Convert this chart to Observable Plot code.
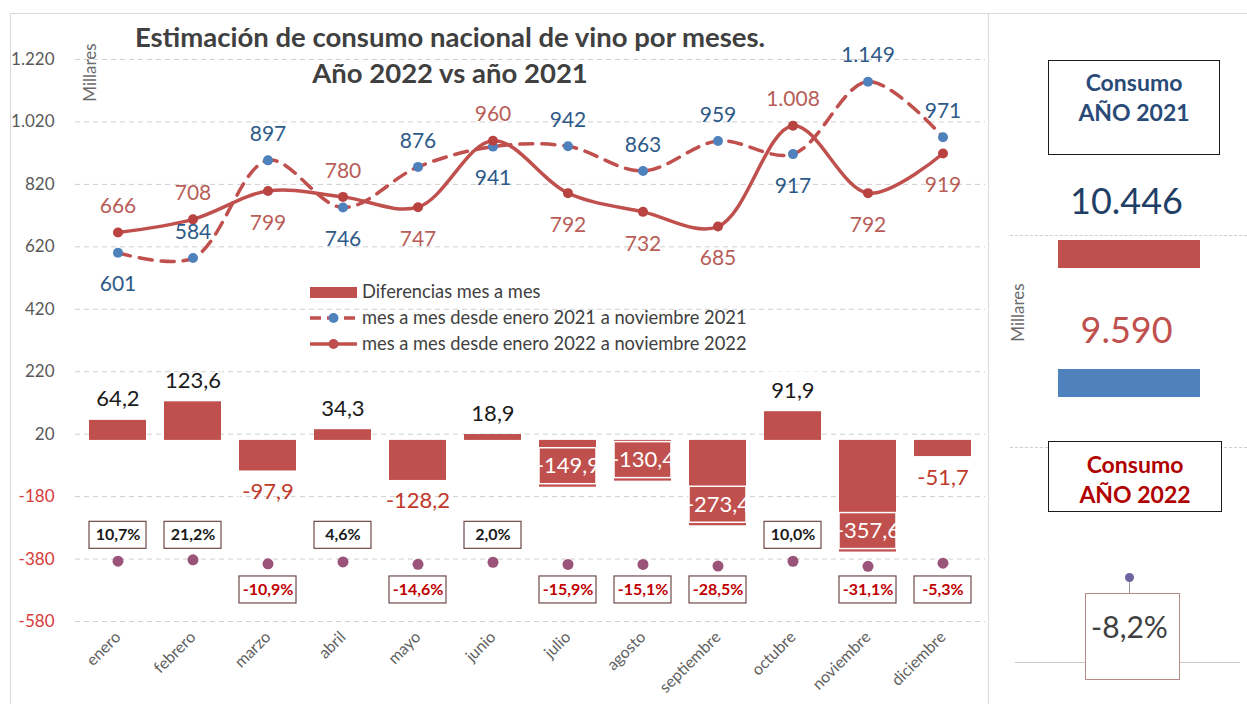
<!DOCTYPE html>
<html><head><meta charset="utf-8">
<script src="https://cdn.jsdelivr.net/npm/d3@7"></script>
<script src="https://cdn.jsdelivr.net/npm/@observablehq/plot@0.6"></script>
<style>
body{margin:0;background:#fff;font-family:Lato,"Open Sans",sans-serif;}
#wrap{position:relative;width:1247px;height:704px;overflow:hidden;background:#fff;}
.abs{position:absolute;}
.hbox{position:absolute;background:#fff;border:1.5px solid #1a1a1a;box-sizing:border-box;text-align:center;font-weight:700;font-size:23px;line-height:30px;padding-top:6px;}
.millares{position:absolute;transform:rotate(-90deg);transform-origin:center;color:#6b6b6b;font-size:17px;white-space:nowrap;}
</style></head><body>
<div id="wrap">
  <!-- frame lines -->
  <div class="abs" style="left:10px;top:13px;width:1237px;height:1px;background:#d9d9d9"></div>
  <div class="abs" style="left:10px;top:13px;width:1px;height:691px;background:#d9d9d9"></div>
  <div class="abs" style="left:988px;top:13px;width:1px;height:691px;background:#d9d9d9"></div>
  <!-- right panel guides -->
  <div class="abs" style="left:1010px;top:235px;width:237px;height:0;border-top:1px dashed #cfcfcf"></div>
  <div class="abs" style="left:1010px;top:447px;width:237px;height:0;border-top:1px dashed #cfcfcf"></div>
  <div class="abs" style="left:1015px;top:662px;width:225px;height:1px;background:#c8c8c8"></div>
  <div class="hbox" style="left:1048px;top:60px;width:172px;height:95px;color:#2a4a78">Consumo<br>AÑO 2021</div>
  <div class="hbox" style="left:1048px;top:441px;width:174px;height:71px;color:#b00000;padding-top:7px">Consumo<br>AÑO 2022</div>
  <div class="abs" style="left:1129px;top:580px;width:1px;height:13px;background:#999"></div>
  <div class="abs" style="left:1085px;top:593px;width:95px;height:87px;border:1px solid #b58a88;box-sizing:border-box;background:#fff"></div>

  <div id="left" class="abs" style="left:0;top:0"></div>
  <div id="right" class="abs" style="left:995px;top:0"></div>

  <div class="millares" style="left:60px;top:62px;">Millares</div>
  <div class="millares" style="left:988px;top:302px;">Millares</div>

  <div class="abs" style="left:0;top:19px;width:900px;text-align:center;font-weight:700;font-size:27.5px;color:#404040;line-height:36px;">Estimación de consumo nacional de vino por meses.<br>Año 2022 vs año 2021</div>

  <svg class="abs" style="left:305px;top:280px" width="480" height="78">
    <rect x="5" y="7" width="47" height="11" fill="#c0504d"></rect>
    <line x1="5" y1="38" x2="52" y2="38" stroke="#c0504d" stroke-width="3.5" stroke-dasharray="11,6"></line>
    <circle cx="28.5" cy="38" r="5" fill="#4f81bd"></circle>
    <line x1="5" y1="64" x2="52" y2="64" stroke="#c0504d" stroke-width="3.5"></line>
    <circle cx="28.5" cy="64" r="5" fill="#c0504d"></circle>
    <g font-family="Lato, sans-serif" font-size="18.3" fill="#404040">
      <text x="57" y="18">Diferencias mes a mes</text>
      <text x="57" y="44">mes a mes desde enero 2021 a noviembre 2021</text>
      <text x="57" y="70">mes a mes desde enero 2022 a noviembre 2022</text>
    </g>
  </svg>
</div>
<script>
// ---- data ----
const months = ["enero","febrero","marzo","abril","mayo","junio","julio","agosto","septiembre","octubre","noviembre","diciembre"];
const consumo2021 = [601,584,897,746,876,941,942,863,959,917,1149,971];
const consumo2022 = [666,708,799,780,747,960,792,732,685,1008,792,919];
const diferencias = [64.2,123.6,-97.9,34.3,-128.2,18.9,-149.9,-130.4,-273.4,91.9,-357.6,-51.7];
const variacionPct = [10.7,21.2,-10.9,4.6,-14.6,2.0,-15.9,-15.1,-28.5,10.0,-31.1,-5.3];
const yTicks = [1220,1020,820,620,420,220,20,-180,-380,-580];
const totalYears = ["2021","2022"];
const totalValues = [10446,9590];
const totalPct = -8.2;

// ---- formats ----
const loc = d3.formatLocale({decimal: ",", thousands: ".", grouping: [3], currency: ["", "€"], minus: "-"});
const fInt = loc.format(",.0f");
const f1 = loc.format(".1f");
const fPct = v => f1(v) + "%";

const rows = months.map((m, i) => ({month: m, c21: consumo2021[i], c22: consumo2022[i], diff: diferencias[i], pct: variacionPct[i]}));

const H = 704, mTop = 59, mBottom = 83;
const yDomain = [-580, 1220];
const u = (yDomain[1] - yDomain[0]) / (H - mTop - mBottom); // data units per pixel

const RED = "#c0504d", BLUE = "#4f81bd";
// label placement: the higher series labelled above, the lower below
// (a low 2021 point with a wide gap to 2022 keeps its label above)
const lineLabels = rows.flatMap(d => [
  {month: d.month, v: d.c21, fill: "#2e5a88", above: d.c21 >= d.c22 || d.c22 - d.c21 > 100},
  {month: d.month, v: d.c22, fill: "#b85d58", above: d.c22 > d.c21}
]);

const barLab = rows.map(d => {
  const up = d.diff > 0 || d.diff < -129;
  const inside = d.diff < -129;
  return {...d, ly: up ? d.diff + 21 * u : d.diff - 21 * u, inside};
});

const pctBase = -391;
const pctRows = rows.map(d => ({...d, py: pctBase + 0.4 * d.pct, by: d.pct >= 0 ? pctBase + 87 : pctBase - 88}));

const left = Plot.plot({
  width: 995, height: H,
  marginLeft: 75, marginRight: 10, marginTop: mTop, marginBottom: mBottom,
  style: {fontFamily: "Lato, sans-serif", fontSize: "16px", color: "#5f5f5f", background: "transparent"},
  x: {type: "band", domain: months, paddingInner: 0.235, paddingOuter: 0.1175, tickRotate: -45, tickSize: 0, tickPadding: 13, label: null},
  y: {domain: yDomain, axis: null},
  marks: [
    Plot.ruleY(yTicks, {stroke: "#cfcfcf", strokeDasharray: "5,4"}),
    Plot.text(yTicks, {y: d => d, text: d => fInt(d), frameAnchor: "left", textAnchor: "end", dx: -21, fontSize: 17, fill: d => d < 0 ? "#d83a3a" : "#595959"}),
    Plot.barY(rows, {x: "month", y: "diff", fill: RED}),
    Plot.barY(barLab, {x: "month", y1: d => d.ly - 18 * u, y2: d => d.ly + 18 * u, fill: "none", stroke: "white", strokeWidth: 1.5}),
    Plot.text(barLab, {x: "month", y: "ly", text: d => f1(d.diff), fontSize: 22, fill: d => d.diff > 0 ? "#1a1a1a" : (d.inside ? "#ffffff" : "#c0392b")}),
    Plot.line(rows, {x: "month", y: "c21", stroke: RED, strokeWidth: 3.5, strokeDasharray: "13,9", curve: "catmull-rom"}),
    Plot.line(rows, {x: "month", y: "c22", stroke: RED, strokeWidth: 3.5, curve: "catmull-rom"}),
    Plot.dot(rows, {x: "month", y: "c21", r: 5, fill: BLUE}),
    Plot.dot(rows, {x: "month", y: "c22", r: 5, fill: "#b94340"}),
    Plot.text(lineLabels.filter(d => d.above), {x: "month", y: "v", text: d => fInt(d.v), dy: -26, fontSize: 21, fill: "fill"}),
    Plot.text(lineLabels.filter(d => !d.above), {x: "month", y: "v", text: d => fInt(d.v), dy: 32, fontSize: 21, fill: "fill"}),
    Plot.dot(pctRows, {x: "month", y: "py", r: 5.5, fill: "#9a5479"}),
    Plot.barY(pctRows, {x: "month", y1: d => d.by - 13.5 * u, y2: d => d.by + 13.5 * u, fill: "white", stroke: "#6e4a4a", strokeWidth: 1.2}),
    Plot.text(pctRows, {x: "month", y: "by", text: d => fPct(d.pct), fontSize: 16, fontWeight: "bold", fill: d => d.pct >= 0 ? "#1a1a1a" : "#c00000"})
  ]
});
document.getElementById("left").appendChild(left);

const totals = totalYears.map((y, i) => ({year: y, value: totalValues[i]}));
const right = Plot.plot({
  width: 252, height: H,
  margin: 0,
  style: {fontFamily: "Lato, sans-serif", background: "transparent"},
  x: {type: "band", domain: ["Total"], range: [63, 205], padding: 0, axis: null},
  y: {type: "band", domain: totalYears, range: [139, 498], padding: 0.78, axis: null},
  marks: [
    Plot.cell(totals, {x: () => "Total", y: "year", fill: d => d.year === "2021" ? RED : BLUE, inset: 0}),
    Plot.text(totals, {x: () => "Total", y: "year", text: d => fInt(d.value), dx: -3, dy: -52, fontSize: 36, fill: d => d.year === "2021" ? "#1f3f66" : RED}),
    Plot.dot([totalPct], {x: () => "Total", frameAnchor: "bottom", dy: -127, r: 4.5, fill: "#6f64a0"}),
    Plot.text([totalPct], {x: () => "Total", frameAnchor: "bottom", dy: -67, text: d => fPct(d), fontSize: 30, fill: "#404040"})
  ]
});
document.getElementById("right").appendChild(right);
</script>
</body></html>
